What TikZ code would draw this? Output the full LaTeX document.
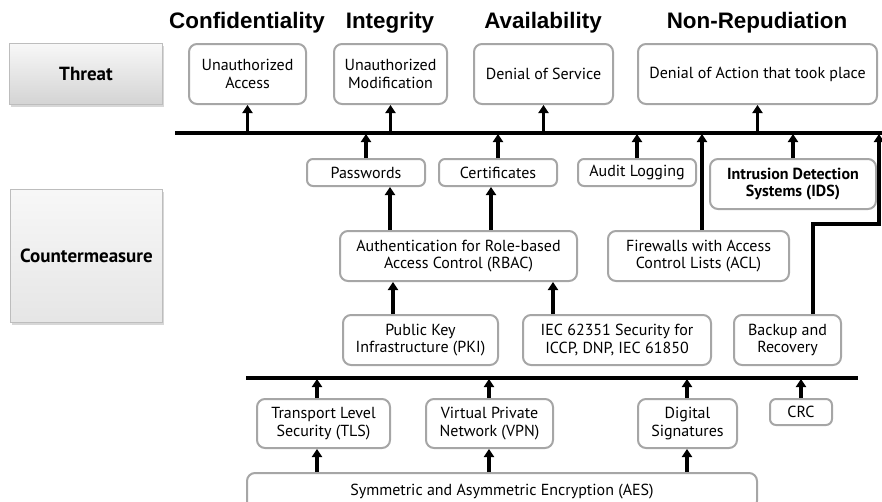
\documentclass[tikz,border=0pt]{standalone}
\usepackage{fontspec}
\setmainfont{PT Sans}
\newfontfamily\titlefont{Liberation Sans}
\usetikzlibrary{arrows.meta,shadows,calc}

\definecolor{boxline}{HTML}{A6A6A6}
\definecolor{hdrline}{HTML}{BDBDBD}

\tikzset{
  box/.style={draw=boxline, line width=2pt, rounded corners=8pt, fill=white,
    align=center, inner sep=0pt, font=\fontsize{16}{17.5}\selectfont},
  sbox/.style={box, rounded corners=6pt},
  hdr/.style={draw=hdrline, line width=0.8pt, align=center, inner sep=0pt,
    font=\bfseries\fontsize{19}{22}\selectfont,
    drop shadow={shadow xshift=1pt, shadow yshift=-2pt, opacity=0.35, fill=black!45}},
  title/.style={anchor=base, font=\titlefont\bfseries\fontsize{22.4}{25}\selectfont},
  arr/.style={line width=3.2pt, -{Triangle[width=10pt,length=8pt]}},
  bus/.style={line width=4.5pt},
}

\begin{document}
\begin{tikzpicture}[x=1pt, y=-1pt]
\useasboundingbox (0,0) rectangle (882,501);
\clip (0,0) rectangle (882,501);

% row headers
\node[hdr, top color=black!3, bottom color=black!17, minimum width=153pt, minimum height=61pt] (threat) at (86,74) {Threat};
\node[hdr, top color=black!3, bottom color=black!10, minimum width=152pt, minimum height=133pt] (cm) at (86.5,256) {Countermeasure};

% security goals
\node[title] (tconf) at (247,28) {Confidentiality};
\node[title] (tint)  at (390,28) {Integrity};
\node[title] (tavl)  at (543,28) {Availability};
\node[title] (tnrp)  at (757,28) {Non-Repudiation};

% threats
\node[box, minimum width=117pt, minimum height=60pt] (ua)  at (247.5,74) {Unauthorized\\Access};
\node[box, minimum width=113pt, minimum height=60pt] (um)  at (390.5,74) {Unauthorized\\Modification};
\node[box, minimum width=139pt, minimum height=60pt] (dos) at (543.5,74) {Denial of Service};
\node[box, minimum width=239pt, minimum height=60pt] (doa) at (757.5,74) {Denial of Action that took place};

% countermeasures, upper tier
\node[sbox, minimum width=118pt, minimum height=27pt] (pw)    at (366,172.5) {Passwords};
\node[sbox, minimum width=118pt, minimum height=27pt] (cert)  at (498,172.5) {Certificates};
\node[sbox, minimum width=118pt, minimum height=27pt] (audit) at (637,172.5) {Audit Logging};
\node[box, font=\bfseries\fontsize{16}{17.5}\selectfont, minimum width=166pt, minimum height=50pt] (ids) at (793,184) {Intrusion Detection\\Systems (IDS)};

\node[box, minimum width=237pt, minimum height=50pt] (rbac) at (458.5,256) {Authentication for Role-based\\Access Control (RBAC)};
\node[box, minimum width=181pt, minimum height=50pt] (fw)   at (698.5,256) {Firewalls with Access\\Control Lists (ACL)};

\node[box, minimum width=155pt, minimum height=50pt] (pki) at (420.5,340) {Public Key\\Infrastructure (PKI)};
\node[box, minimum width=188pt, minimum height=50pt] (iec) at (617,340) {IEC 62351 Security for\\ICCP, DNP, IEC 61850};
\node[box, minimum width=107pt, minimum height=50pt] (bk)  at (787.5,340) {Backup and\\Recovery};

% countermeasures, lower tier
\node[box, minimum width=133pt, minimum height=49pt] (tls) at (323.5,423.5) {Transport Level\\Security (TLS)};
\node[box, minimum width=127pt, minimum height=49pt] (vpn) at (489.5,423.5) {Virtual Private\\Network (VPN)};
\node[box, minimum width=99pt, minimum height=49pt]  (ds)  at (687.5,423.5) {Digital\\Signatures};
\node[sbox, minimum width=62pt, minimum height=26pt] (crc) at (801,412) {CRC};
\node[box, minimum width=510pt, minimum height=36pt, text depth=0pt] (aes) at (502,491) {\raisebox{3pt}{Symmetric and Asymmetric Encryption (AES)}};

% buses
\coordinate (busA) at (175,133);
\coordinate (busAend) at (882,133);
\coordinate (busAb) at (0,134);
\coordinate (busB) at (246,378);
\coordinate (busBend) at (858,378);
\coordinate (busBb) at (0,379);
\draw[bus] (busA) -- (busAend);
\draw[bus] (busB) -- (busBend);

% bus to threats
\foreach \n in {ua,um,dos,doa}
  \draw[arr] (\n.south |- busA) -- (\n.south);

% countermeasures feeding the upper bus
\foreach \n in {pw,cert,audit,ids}
  \draw[arr] (\n.north) -- (\n.north |- busAb);
\coordinate (fwx) at (702,0);
\draw[arr] (fw.north -| fwx) -- (fwx |- busAb);
\coordinate (bkx) at (813,0);
\coordinate (bend) at (879,224);
\draw[arr] (bk.north -| bkx) |- (bend) -- (bend |- busAb);

% RBAC feeds passwords and certificates
\coordinate (r1) at (390,0);
\coordinate (r2) at (491,0);
\draw[arr] (rbac.north -| r1) -- (pw.south -| r1);
\draw[arr] (rbac.north -| r2) -- (cert.south -| r2);

% PKI and IEC 62351 feed RBAC
\coordinate (p1) at (393,0);
\coordinate (p2) at (553,0);
\draw[arr] (pki.north -| p1) -- (rbac.south -| p1);
\draw[arr] (iec.north -| p2) -- (rbac.south -| p2);

% lower tier into the lower bus
\coordinate (t1) at (317,0);
\coordinate (t2) at (489,0);
\coordinate (t3) at (687,0);
\coordinate (t4) at (801,0);
\draw[arr] (tls.north -| t1) -- (t1 |- busBb);
\draw[arr] (vpn.north -| t2) -- (t2 |- busBb);
\draw[arr] (ds.north -| t3) -- (t3 |- busBb);
\draw[arr] (crc.north -| t4) -- (t4 |- busBb);

% encryption under the lower tier
\draw[arr] (aes.north -| t1) -- (tls.south -| t1);
\draw[arr] (aes.north -| t2) -- (vpn.south -| t2);
\draw[arr] (aes.north -| t3) -- (ds.south -| t3);
\end{tikzpicture}
\end{document}
